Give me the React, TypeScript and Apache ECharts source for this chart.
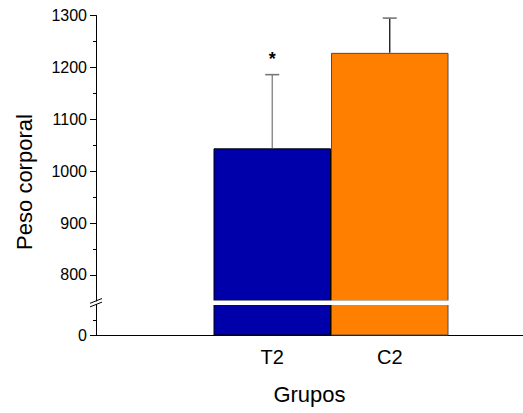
import React, { useEffect, useRef } from "react";
import * as echarts from "echarts";

// ---- data ----
const categories = ["T2", "C2"];
const categoryX = [1.5, 2.5];
const means = [1044, 1228];
const sds = [142, 67];
const marks = ["*", ""];
const barColors = ["#0000aa", "#ff8000"];
const barBorderColors = ["#000000", "#4d4d4d"];
const errorColors = ["#808080", "#111111"];
const upperRange = [750, 1300];
const lowerRange = [0, 60];
const upperMajorTicks = [800, 900, 1000, 1100, 1200, 1300];
const upperMinorTicks = [850, 950, 1050, 1150, 1250];
const lowerMajorTicks = [0];
const lowerMinorTicks = [30];
const xRange = [0, 3.634];

// ---- layout ----
const W = 523;
const H = 413;
const LEFT = 96;
const UP_TOP = 15.5;
const UP_H = 285.4;
const LOW_TOP = 304.5;
const LOW_H = 31;
const BAR_W = 117.5;
const FONT = "'Liberation Sans', Arial, Helvetica, sans-serif";

export default function App() {
  const ref = useRef<HTMLDivElement>(null);

  useEffect(() => {
    document.body.style.margin = "0";
    if (!ref.current) return;
    const chart = echarts.init(ref.current, null, { renderer: "svg" });

    const barData = categories.map((c, i) => ({
      name: c,
      value: [categoryX[i], means[i]],
      itemStyle: { color: barColors[i], borderColor: barBorderColors[i], borderWidth: 1 },
    }));

    const yBase = (grid: number, range: number[]) => ({
      gridIndex: grid,
      type: "value",
      position: "left",
      min: range[0],
      max: range[1],
      splitLine: { show: false },
    });

    const plain = (v: number) => String(v);
    const upBottom = UP_TOP + UP_H;

    const option: any = {
      animation: false,
      textStyle: { fontFamily: FONT },
      grid: [
        { left: LEFT, right: 0, top: UP_TOP, height: UP_H },
        { left: LEFT, right: 0, top: LOW_TOP, height: LOW_H },
      ],
      xAxis: [
        { gridIndex: 0, type: "value", min: xRange[0], max: xRange[1], show: false },
        {
          gridIndex: 1,
          type: "value",
          min: xRange[0],
          max: xRange[1],
          axisLine: { show: true, onZero: false, lineStyle: { color: "#000", width: 1 } },
          axisTick: { show: false },
          splitLine: { show: false },
          axisLabel: {
            customValues: categoryX,
            formatter: (v: number) => {
              const k = categoryX.indexOf(v);
              return k >= 0 ? categories[k] : "";
            },
            color: "#000",
            fontSize: 20,
            margin: 11,
            fontFamily: FONT,
          },
          name: "Grupos",
          nameLocation: "middle",
          nameGap: 48,
          nameTextStyle: { fontSize: 22, color: "#000", fontFamily: FONT },
        },
      ],
      yAxis: [
        {
          ...yBase(0, upperRange),
          axisLine: { show: true, lineStyle: { color: "#000", width: 1 } },
          axisTick: { show: true, customValues: upperMajorTicks, length: 6, lineStyle: { color: "#000" } },
          axisLabel: { customValues: upperMajorTicks, formatter: plain, fontSize: 16, color: "#000", margin: 9, fontFamily: FONT },
        },
        {
          ...yBase(0, upperRange),
          axisLine: { show: false },
          axisTick: { show: true, customValues: upperMinorTicks, length: 3, lineStyle: { color: "#000" } },
          axisLabel: { show: false },
        },
        {
          ...yBase(1, lowerRange),
          axisLine: { show: true, onZero: false, lineStyle: { color: "#000", width: 1 } },
          axisTick: { show: true, customValues: lowerMajorTicks, length: 6, lineStyle: { color: "#000" } },
          axisLabel: { customValues: lowerMajorTicks, formatter: plain, fontSize: 16, color: "#000", margin: 9, fontFamily: FONT },
        },
        {
          ...yBase(1, lowerRange),
          axisLine: { show: false },
          axisTick: { show: true, customValues: lowerMinorTicks, length: 3, lineStyle: { color: "#000" } },
          axisLabel: { show: false },
        },
      ],
      series: [
        {
          type: "bar",
          xAxisIndex: 0,
          yAxisIndex: 0,
          barWidth: BAR_W,
          data: barData,
          z: 2,
        },
        {
          type: "bar",
          xAxisIndex: 1,
          yAxisIndex: 2,
          barWidth: BAR_W,
          data: barData,
          z: 2,
        },
        {
          type: "custom",
          xAxisIndex: 0,
          yAxisIndex: 0,
          clip: false,
          z: 3,
          data: categories.map((c, i) => [categoryX[i], means[i], means[i] + sds[i], i]),
          renderItem: (params: any, api: any) => {
            const x = api.value(0);
            const m = api.value(1);
            const t = api.value(2);
            const i = api.value(3);
            const base = api.coord([x, m]);
            const top = api.coord([x, t]);
            const col = errorColors[i];
            const children: any[] = [
              { type: "line", shape: { x1: base[0], y1: base[1], x2: top[0], y2: top[1] }, style: { stroke: col, lineWidth: 1.3 } },
              { type: "line", shape: { x1: top[0] - 7, y1: top[1], x2: top[0] + 7, y2: top[1] }, style: { stroke: "#777777", lineWidth: 1.6 } },
            ];
            if (marks[i]) {
              children.push({
                type: "text",
                x: top[0],
                y: top[1] - 16,
                style: { text: marks[i], fontSize: 18, fontWeight: "bold", fontFamily: FONT, fill: "#000", textAlign: "center", textVerticalAlign: "middle" },
              });
            }
            return { type: "group", children };
          },
        },
      ],
      graphic: [
        {
          type: "rect",
          z: 100,
          shape: { x: LEFT + 1, y: upBottom - 0.5, width: W - LEFT, height: LOW_TOP - upBottom + 1 },
          style: { fill: "#ffffff" },
        },
        {
          type: "line",
          z: 101,
          shape: { x1: LEFT - 6, y1: upBottom + 2.4, x2: LEFT + 6, y2: upBottom - 2.4 },
          style: { stroke: "#000", lineWidth: 1 },
        },
        {
          type: "line",
          z: 101,
          shape: { x1: LEFT - 6, y1: LOW_TOP + 2.4, x2: LEFT + 6, y2: LOW_TOP - 2.4 },
          style: { stroke: "#000", lineWidth: 1 },
        },
        {
          type: "text",
          x: 24,
          y: 182,
          rotation: Math.PI / 2,
          style: { text: "Peso corporal", fontSize: 22, fontFamily: FONT, fill: "#000", textAlign: "center", textVerticalAlign: "middle" },
        },
      ],
    };

    chart.setOption(option);
    return () => chart.dispose();
  }, []);

  return <div ref={ref} style={{ width: W, height: H }} />;
}
